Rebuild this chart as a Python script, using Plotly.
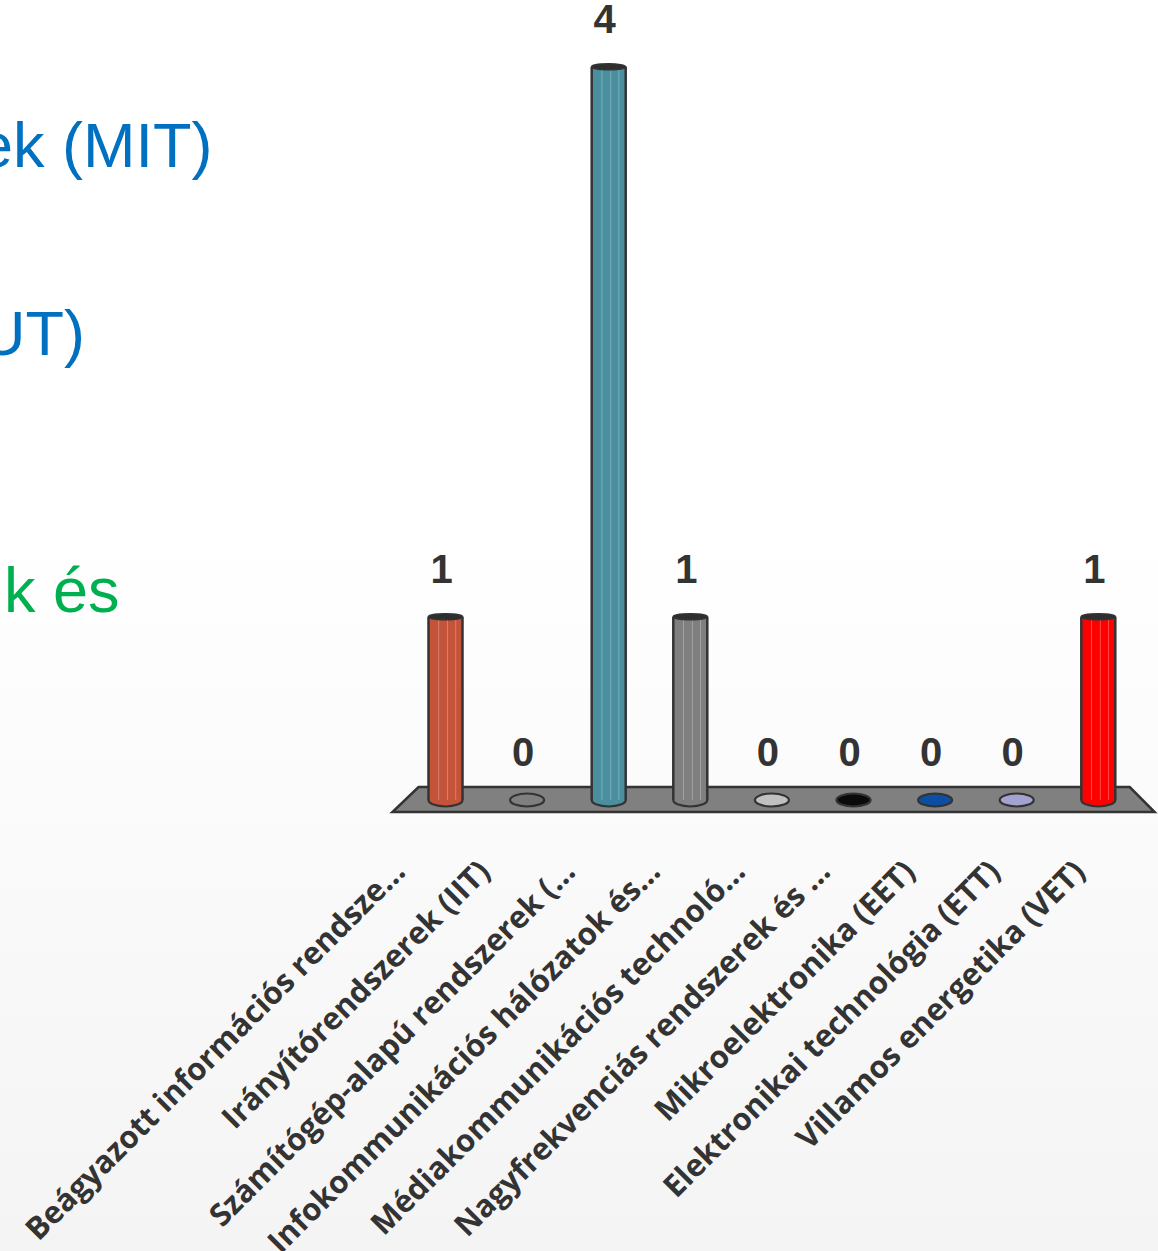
import plotly.graph_objects as go

# Szakirányok és a jelentkezők száma
categories = [
    "Beágyazott információs rendsze...",
    "Irányítórendszerek (IIT)",
    "Számítógép-alapú rendszerek (...",
    "Infokommunikációs hálózatok és...",
    "Médiakommunikációs technoló...",
    "Nagyfrekvenciás rendszerek és ...",
    "Mikroelektronika (EET)",
    "Elektronikai technológia (ETT)",
    "Villamos energetika (VET)",
]
values = [1, 0, 4, 1, 0, 0, 0, 0, 1]
colors = ["#c5533a", "#7f7f7f", "#4a8fa0", "#7f7f7f", "#c0c0c0",
          "#0a0a0a", "#0b4ea2", "#a3a3d2", "#ff0000"]

W, H = 1158, 1251
n = len(categories)
idx = list(range(n))

# axis scaling (pixels per unit)
px_cat = 81.6
px_val = 183.3
x0_px = 445.5
y0_px = 800.0
xr = [-x0_px / px_cat, (W - x0_px) / px_cat]
yr = [-(H - y0_px) / px_val, y0_px / px_val]

bw = 34 / px_cat          # cylinder width in category units
eh = 6.5 / px_val         # half height of the base ellipse
ch = 3.0 / px_val         # half height of the top cap

shapes = []
# soft vertical background gradient
nb = 90
g_top = 0.58
for k in range(nb):
    t = (k + 0.5) / nb
    g = round(255 - 11 * t)
    top = g_top * (1 - k / nb)
    bot = g_top * (1 - (k + 1) / nb) - 0.002
    shapes.append(dict(type="rect", xref="paper", yref="paper", x0=0, x1=1,
                       y0=max(bot, 0), y1=top, layer="below", line=dict(width=0),
                       fillcolor=f"rgb({g},{g},{g})"))

# floor of the 3D plot area
fl_top = 13 / px_val
fl_bot = -12 / px_val
floor_path = (f"M {-0.33} {fl_top} L {n - 1 + 0.385} {fl_top} "
              f"L {n - 1 + 0.69} {fl_bot} L {-0.65} {fl_bot} Z")
shapes.append(dict(type="path", xref="x", yref="y", path=floor_path,
                   layer="below", fillcolor="#808080",
                   line=dict(color="#333333", width=2.5)))

# rounded cylinder bases
for i, v, c in zip(idx, values, colors):
    shapes.append(dict(type="circle", xref="x", yref="y",
                       x0=i - bw / 2, x1=i + bw / 2, y0=-eh, y1=eh,
                       layer="below", fillcolor=c,
                       line=dict(color="#333333", width=2.2)))

fig = go.Figure()

# cylinder bodies
fig.add_trace(go.Bar(x=idx, y=values, width=bw, base=0,
                     marker=dict(color=colors, line=dict(width=0)),
                     hoverinfo="skip", showlegend=False))

# facet highlights and outlines of the cylinders
for i, v in zip(idx, values):
    if v <= 0:
        continue
    for f in (0.30, 0.56, 0.80):
        fx = i - bw / 2 + f * bw
        fig.add_trace(go.Scatter(x=[fx, fx], y=[0, v], mode="lines",
                                 line=dict(color="rgba(255,255,255,0.28)", width=1),
                                 hoverinfo="skip", showlegend=False))
    fig.add_trace(go.Scatter(x=[i - bw / 2, i - bw / 2], y=[0, v], mode="lines",
                             line=dict(color="#333333", width=2.5),
                             hoverinfo="skip", showlegend=False))
    fig.add_trace(go.Scatter(x=[i + bw / 2, i + bw / 2], y=[0, v], mode="lines",
                             line=dict(color="#333333", width=2.5),
                             hoverinfo="skip", showlegend=False))
    shapes.append(dict(type="circle", xref="x", yref="y",
                       x0=i - bw / 2, x1=i + bw / 2, y0=v - ch, y1=v + ch,
                       layer="above", fillcolor="#2e2e2e",
                       line=dict(color="#333333", width=1.5)))

# value labels above each cylinder
fig.add_trace(go.Scatter(
    x=[i - 4 / px_cat for i in idx],
    y=[v + 44 / px_val for v in values],
    mode="text", text=[str(v) for v in values],
    textposition="middle center", cliponaxis=False,
    textfont=dict(family="Liberation Sans, Arial", size=40, color="#333333",
                  weight="bold"),
    hoverinfo="skip", showlegend=False, xaxis="x", yaxis="y"))

# category axis drawn along the front edge of the floor
lab_px = 85.0
lab_x0 = 396.0
fig.add_trace(go.Scatter(x=idx, y=[None] * n, xaxis="x2", yaxis="y",
                         mode="markers", showlegend=False, hoverinfo="skip"))

fig.update_layout(
    width=W, height=H,
    margin=dict(l=0, r=0, t=0, b=0, autoexpand=False),
    paper_bgcolor="white", plot_bgcolor="rgba(0,0,0,0)",
    barmode="overlay",
    shapes=shapes,
    xaxis=dict(range=xr, domain=[0, 1], visible=False, fixedrange=True,
               automargin=False),
    xaxis2=dict(range=[-lab_x0 / lab_px, (W - lab_x0) / lab_px],
                overlaying="x", anchor="free", position=(H - 846) / H,
                side="bottom", tickmode="array", tickvals=idx, ticktext=categories,
                tickangle=-45, showgrid=False, zeroline=False, showline=False,
                automargin=False, fixedrange=True,
                ticks="", tickfont=dict(family="Open Sans", size=31,
                                        color="#333333", weight="bold")),
    yaxis=dict(range=yr, domain=[0, 1], visible=False, fixedrange=True,
               automargin=False),
    annotations=[
        dict(text="ek (MIT)", xref="paper", yref="paper", x=214 / W, y=1 - 145 / H,
             xanchor="right", yanchor="middle", showarrow=False,
             font=dict(family="Liberation Sans, Arial", size=63, color="#0070c0")),
        dict(text="UT)", xref="paper", yref="paper", x=87 / W, y=1 - 333 / H,
             xanchor="right", yanchor="middle", showarrow=False,
             font=dict(family="Liberation Sans, Arial", size=63, color="#0070c0")),
        dict(text="k és", xref="paper", yref="paper", x=122 / W, y=1 - 590 / H,
             xanchor="right", yanchor="middle", showarrow=False,
             font=dict(family="Liberation Sans, Arial", size=63, color="#00b050")),
    ],
)

fig.write_html("out.html")
